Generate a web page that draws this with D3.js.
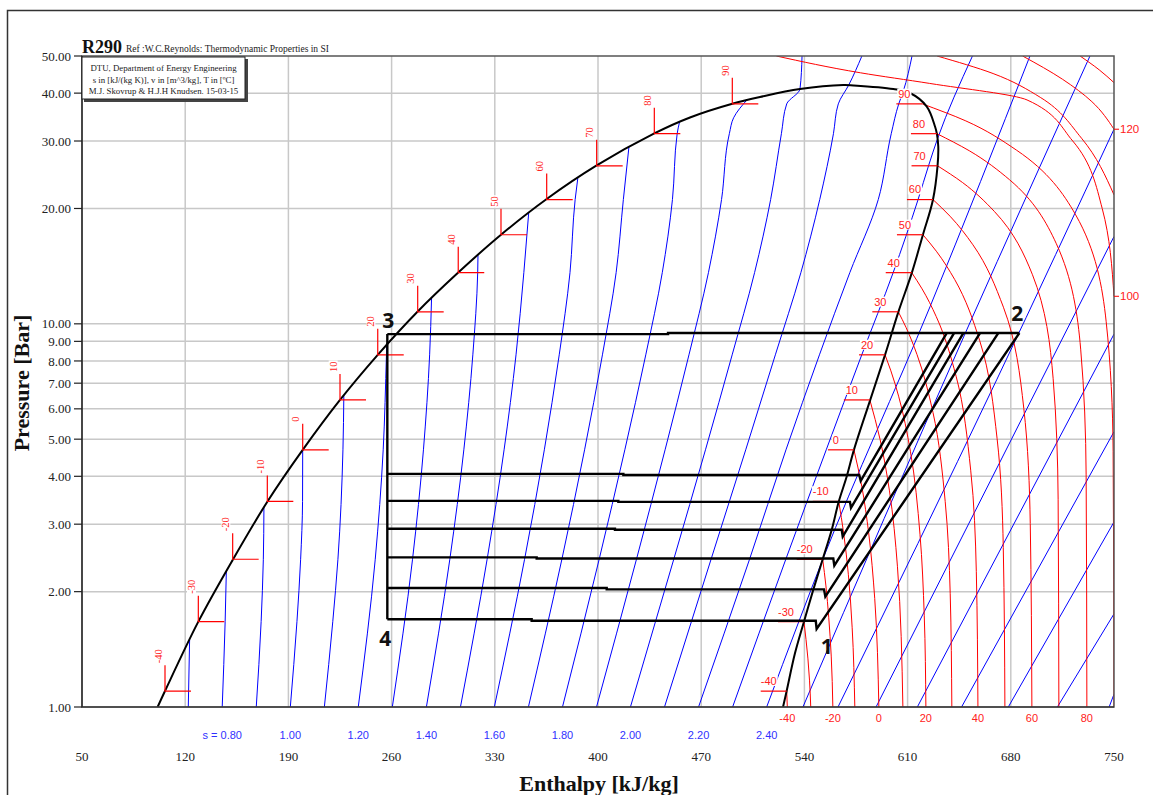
<!DOCTYPE html>
<html>
<head>
<meta charset="utf-8">
<script src="https://cdn.jsdelivr.net/npm/d3@7"></script>
<style>
  body { margin: 0; background: #fff; }
  svg { display: block; }
</style>
</head>
<body>
<svg id="chart"></svg>
<script>
const W = 1153, H = 795;
const SERIF = "'Liberation Serif', 'Times New Roman', serif";
const SANS = "'Liberation Sans', Arial, sans-serif";

// axes
const hTicks = [50, 120, 190, 260, 330, 400, 470, 540, 610, 680, 750];
const pTicks = [1, 2, 3, 4, 5, 6, 7, 8, 9, 10, 20, 30, 40, 50];

// saturation markers (T in C, p in bar, h in kJ/kg)
const satTemps = [-40, -30, -20, -10, 0, 10, 20, 30, 40, 50, 60, 70, 80, 90];
const satPress = [1.10, 1.67, 2.43, 3.44, 4.69, 6.33, 8.30, 10.75, 13.6, 17.08, 21.1, 25.85, 31.35, 37.5];
const liqMarkH = [106.3, 128.9, 152.2, 175.7, 199.7, 225.0, 250.6, 277.7, 305.2, 334.2, 365.2, 399.1, 438.2, 491.1];
const vapMarkH = [528.0, 539.7, 552.4, 563.3, 573.6, 584.4, 594.7, 603.7, 612.8, 620.4, 627.2, 630.3, 629.9, 620.0];

// saturation dome, liquid side up, over the top, vapour side down
const domeLine = [
  [101.3, 1.0], [106.3, 1.101], [128.9, 1.67], [152.2, 2.42], [175.7, 3.433], [199.7, 4.688],
  [225.0, 6.33], [250.6, 8.30], [277.7, 10.77], [305.2, 13.61], [334.2, 17.08], [365.2, 21.17],
  [399.1, 25.9], [438.2, 31.4], [462.4, 34.56], [491.1, 37.53], [509.9, 39.08], [537.0, 41.0],
  [566.4, 42.0], [573.2, 41.9], [600.3, 41.0], [611.6, 40.03], [622.9, 36.93], [628.6, 32.74],
  [629.9, 31.28], [630.8, 29.04], [630.3, 25.8], [627.2, 21.08], [620.4, 17.08], [612.8, 13.56],
  [603.7, 10.73], [594.7, 8.30], [584.5, 6.305], [573.6, 4.688], [568.7, 3.994], [563.3, 3.436],
  [558.5, 2.898], [552.4, 2.43], [546.0, 2.021], [539.7, 1.67], [533.6, 1.381], [528.0, 1.103],
  [525.5, 1.0]
];

// isentropes, s in kJ/(kg K)
const sValues = [0.7, 0.8, 0.9, 1.0, 1.1, 1.2, 1.3, 1.4, 1.5, 1.6, 1.7, 1.8, 1.9, 2.0, 2.1, 2.2, 2.3, 2.4,
                 2.5, 2.6, 2.7, 2.8, 2.9, 3.0, 3.1, 3.2];
const sLines = [
  [[122.1, 1], [123.0, 1.5]],
  [[145.1, 1], [147.1, 1.67], [147.9, 2.26]],
  [[168.2, 1], [171.5, 1.67], [173.0, 2.43], [173.4, 3.32]],
  [[191.3, 1], [195.8, 1.67], [198.3, 2.43], [199.6, 3.44], [199.7, 4.69]],
  [[214.4, 1], [220.1, 1.67], [223.6, 2.43], [227.0, 4.69], [227.6, 6.51]],
  [[237.4, 1], [248.9, 2.43], [254.3, 4.69], [256.5, 8.30], [256.7, 8.80]],
  [[260.5, 1], [274.2, 2.43], [281.6, 4.69], [285.8, 8.30], [287.1, 11.67]],
  [[283.6, 1], [299.5, 2.43], [309.0, 4.69], [315.1, 8.30], [318.4, 13.6], [318.6, 15.1]],
  [[306.7, 1], [324.8, 2.43], [336.3, 4.69], [344.4, 8.30], [349.7, 13.6], [353.0, 19.5]],
  [[329.7, 1], [350.2, 2.43], [363.6, 4.69], [373.7, 8.30], [381.0, 13.6], [384.5, 21.1], [386.3, 24.0]],
  [[352.8, 1], [375.5, 2.43], [390.9, 4.69], [403.0, 8.30], [412.3, 13.6], [417.2, 21.1], [421.0, 29.0]],
  [[375.9, 1], [400.8, 2.43], [418.2, 4.69], [432.4, 8.30], [443.6, 13.6], [450.5, 21.1], [453.7, 31.35], [455.3, 33.6]],
  [[399.0, 1], [426.1, 2.43], [445.5, 4.69], [461.7, 8.30], [474.9, 13.6], [483.8, 21.1], [489.1, 31.35], [492.0, 34.5], [501.0, 38.4]],
  [[422.0, 1], [451.4, 2.43], [472.9, 4.69], [491.0, 8.30], [506.2, 13.6], [517.1, 21.1], [524.4, 31.35], [528.0, 37.5], [537.0, 41.0], [538.4, 50]],
  [[445.1, 1], [476.7, 2.43], [500.2, 4.69], [520.3, 8.30], [537.6, 13.6], [550.4, 21.1], [559.7, 31.35], [563.0, 37.5], [570.0, 41.95], [579.0, 50]],
  [[468.2, 1], [502.8, 2.43], [527.5, 4.69], [550.2, 8.30], [570.8, 13.6], [590.1, 21.1], [598.9, 31.35], [604.0, 37.5], [607.0, 40.4], [613.0, 50]],
  [[491.3, 1], [527.4, 2.43], [554.8, 4.69], [578.9, 8.30], [600.2, 13.6], [617.1, 21.1], [624.2, 25.85], [630.4, 30.5], [654.0, 50]],
  [[514.4, 1], [536.2, 1.67], [552.5, 2.43], [625.2, 11.08], [693.0, 50]],
  [[539.0, 1], [650.1, 9.64], [733.7, 50]],
  [[562.8, 1], [670.4, 7.14], [750, 32.2]],
  [[588.6, 1], [750, 16.9]],
  [[616.6, 1], [750, 9.4]],
  [[646.6, 1], [750, 5.23]],
  [[678.3, 1], [750, 3.04]],
  [[711.6, 1], [750, 1.75]],
  [[746.7, 1], [750, 1.08]]
];

// isotherms in the vapour and supercritical region, T in C
const tempValues = [-40, -30, -20, -10, 0, 10, 20, 30, 40, 50, 60, 70, 80, 90, 100, 110, 120, 130];
const tempLines = [
  [[528.0, 1.10], [528.4, 1.0]],
  [[539.7, 1.67], [541.1, 1.50], [542.4, 1.335], [543.5, 1.17], [544.3, 1.0]],
  [[552.4, 2.43], [554.6, 2.07], [556.5, 1.715], [558.2, 1.358], [559.3, 1.0]],
  [[563.3, 3.44], [566.7, 2.83], [569.8, 2.22], [572.4, 1.61], [574.2, 1.0]],
  [[573.6, 4.69], [578.9, 3.77], [583.6, 2.845], [587.7, 1.92], [590.5, 1.0]],
  [[584.4, 6.33], [591.3, 5.0], [597.7, 3.665], [603.1, 2.33], [606.8, 1.0]],
  [[594.7, 8.30], [598.5, 7.57], [603.9, 6.475], [611.9, 4.65], [618.4, 2.825], [621.3, 1.73], [622.4, 1.0]],
  [[603.7, 10.75], [609.0, 9.775], [616.4, 8.31], [627.2, 5.875], [635.5, 3.44], [638.9, 1.975], [640.0, 1.0]],
  [[612.8, 13.6], [619.8, 12.34], [629.4, 10.45], [642.9, 7.3], [652.8, 4.15], [656.6, 2.26], [657.7, 1.0]],
  [[620.4, 17.08], [629.5, 15.47], [641.9, 13.06], [658.9, 9.04], [670.7, 5.02], [674.9, 2.61], [676.0, 1.0]],
  [[627.2, 21.1], [638.8, 19.09], [654.3, 16.08], [675.0, 11.05], [688.8, 6.025], [693.2, 3.01], [694.3, 1.0]],
  [[630.3, 25.85], [647.3, 23.37], [668.9, 19.64], [694.7, 13.43], [708.7, 7.21], [712.1, 3.485], [712.6, 1.0]],
  [[629.9, 31.35], [651.8, 28.3], [679.2, 23.76], [710.9, 16.18], [727.4, 8.59], [731.1, 4.035], [731.6, 1.0]],
  [[620.0, 37.5], [649.5, 33.85], [684.0, 28.375], [724.0, 19.25], [744.7, 10.125], [749.4, 4.65], [750, 1.0]],
  [[521.0, 50], [578.0, 45.2], [625.0, 42.4], [691.0, 38.4], [722.0, 30], [742.0, 20], [750, 11.8]],
  [[630.0, 50], [668.0, 45], [700.0, 39], [728.0, 30.5], [750, 21.7]],
  [[688.0, 50], [715.0, 43.5], [735.0, 38], [750, 32.2]],
  [[727.0, 50], [740.0, 46], [750, 42.6]]
];

// refrigeration cycles
const condenser = [[685.8, 9.46], [447.5, 9.46], [447.5, 9.40], [257.1, 9.40]];
const throttle = [[257.1, 9.40], [257.1, 1.694]];
const evapPress = [[4.06, 4.03], [3.45, 3.43], [2.92, 2.90], [2.458, 2.44], [2.045, 2.028], [1.694, 1.679]];
const evapStepH = [417.2, 413.8, 411.5, 358.4, 405.9, 355.0];
const evapEndH = [577.2, 570.9, 565.3, 559.6, 553.3, 547.7];
const suction = [[578.2, 3.89], [571.6, 3.31], [566.0, 2.785], [560.3, 2.338], [554.2, 1.941], [548.3, 1.598]];
const dischargeH = [636.5, 641.5, 647.8, 659.1, 671.5, 685.8];
const condP = 9.46;

const x = d3.scaleLinear().domain([50, 750]).range([82, 1114]);
const y = d3.scaleLog().domain([1, 50]).range([707, 56]);

const line = d3.line().x(d => x(d[0])).y(d => y(d[1]));
const smoothY = d3.line().x(d => x(d[0])).y(d => y(d[1])).curve(d3.curveMonotoneY);
const smooth = d3.line().x(d => x(d[0])).y(d => y(d[1])).curve(d3.curveCatmullRom.alpha(0.5));
const byY = pts => pts.slice().sort((a, b) => b[1] - a[1]);

const svg = d3.select("#chart").attr("width", W).attr("height", H);
svg.append("rect").attr("width", W).attr("height", H).attr("fill", "#fff");

// page frame
svg.append("path").attr("d", "M7.5,795V10.5H1153")
  .attr("fill", "none").attr("stroke", "#333").attr("stroke-width", 1.5);

svg.append("defs").append("clipPath").attr("id", "plot")
  .append("rect").attr("x", x(50)).attr("y", y(50)).attr("width", x(750) - x(50)).attr("height", y(1) - y(50));

// grid
const grid = svg.append("g").attr("stroke", "#c8c8c8").attr("stroke-width", 1.5);
grid.selectAll(".gv").data(hTicks.slice(1, -1)).join("line").attr("class", "gv")
  .attr("x1", d => x(d)).attr("x2", d => x(d)).attr("y1", y(50)).attr("y2", y(1));
grid.selectAll(".gh").data(pTicks.slice(1, -1)).join("line").attr("class", "gh")
  .attr("x1", x(50)).attr("x2", x(750)).attr("y1", d => y(d)).attr("y2", d => y(d));

const plot = svg.append("g").attr("clip-path", "url(#plot)");

// isentropes
plot.append("g").selectAll("path").data(sLines).join("path")
  .attr("d", d => smoothY(byY(d)))
  .attr("fill", "none").attr("stroke", "#0000ff").attr("stroke-width", 1);

// isotherms
plot.append("g").selectAll("path").data(tempLines).join("path")
  .attr("d", d => smoothY(byY(d)))
  .attr("fill", "none").attr("stroke", "#ff0000").attr("stroke-width", 1);

// dome
plot.append("path").attr("d", smooth(domeLine))
  .attr("fill", "none").attr("stroke", "#000").attr("stroke-width", 2);

// saturation markers
const marks = svg.append("g").attr("stroke", "#ff0000").attr("stroke-width", 1.2);
satTemps.forEach((t, i) => {
  const cx = x(liqMarkH[i]), cy = y(satPress[i]);
  marks.append("path").attr("d", `M${cx},${cy - 26}V${cy}H${cx + 26}`).attr("fill", "none");
  const vx = x(vapMarkH[i]);
  marks.append("path").attr("d", `M${vx - 26},${cy}H${vx}`);
});

function label(g, txt, px, py, opts) {
  const o = Object.assign({ rot: false, anchor: "middle", color: "#ff2020", size: 11, bg: true, font: SANS }, opts);
  const t = g.append("g").attr("transform", `translate(${px},${py})` + (o.rot ? " rotate(-90)" : ""));
  const text = t.append("text").text(txt)
    .attr("text-anchor", o.anchor).attr("dy", "0.35em")
    .attr("font-family", o.font).attr("font-size", o.size).attr("fill", o.color);
  if (o.bg) {
    const bb = text.node().getBBox();
    t.insert("rect", "text").attr("x", bb.x - 1).attr("y", bb.y + 1)
      .attr("width", bb.width + 2).attr("height", bb.height - 2).attr("fill", "#fff");
  }
}

const labels = svg.append("g");
satTemps.forEach((t, i) => {
  const cx = x(liqMarkH[i]), cy = y(satPress[i]);
  label(labels, String(t), cx - 7, cy - 28, { rot: true, anchor: "start", size: 10.5, font: SERIF });
  label(labels, String(t), x(vapMarkH[i]) - 18, cy - 10, {});
});

// cycle
const cyc = svg.append("g").attr("fill", "none").attr("stroke", "#000").attr("stroke-width", 2.4)
  .attr("stroke-linejoin", "miter");
cyc.append("path").attr("d", line(condenser));
cyc.append("path").attr("d", line(throttle));
evapPress.forEach((pp, i) => {
  const pts = [[257.1, pp[0]], [evapStepH[i], pp[0]], [evapStepH[i], pp[1]], [evapEndH[i], pp[1]],
               suction[i], [dischargeH[i], condP]];
  cyc.append("path").attr("d", line(pts));
});

// state point numbers
function pointLabel(txt, pt, dx, dy) {
  svg.append("text").text(txt).attr("x", x(pt[0]) + dx).attr("y", y(pt[1]) + dy)
    .attr("text-anchor", "middle").attr("dy", "0.35em")
    .attr("font-family", "'Open Sans', 'Liberation Sans', sans-serif")
    .attr("font-weight", "bold").attr("font-size", 21).attr("fill", "#111");
}
pointLabel("1", suction[5], 10, 18);
pointLabel("2", [dischargeH[5], condP], -2, -19);
pointLabel("3", condenser[3], 1, -13);
pointLabel("4", throttle[1], -2, 19);

// plot frame and axes
svg.append("rect").attr("x", x(50)).attr("y", y(50)).attr("width", x(750) - x(50)).attr("height", y(1) - y(50))
  .attr("fill", "none").attr("stroke", "#555").attr("stroke-width", 1.5);
svg.append("path").attr("d", `M${x(50)},${y(50)}V${y(1)}H${x(750)}`)
  .attr("fill", "none").attr("stroke", "#222").attr("stroke-width", 1.2);

const yAxis = svg.append("g").attr("font-family", SERIF).attr("font-size", 13);
pTicks.forEach(p => {
  yAxis.append("line").attr("x1", 74).attr("x2", x(50)).attr("y1", y(p)).attr("y2", y(p))
    .attr("stroke", "#222").attr("stroke-width", 1.2);
  yAxis.append("text").attr("x", 71).attr("y", y(p)).attr("dy", "0.35em")
    .attr("text-anchor", "end").attr("fill", "#222").text(d3.format(".2f")(p));
});

const xAxis = svg.append("g").attr("font-family", SERIF).attr("font-size", 13);
hTicks.forEach(h => {
  xAxis.append("text").attr("x", x(h)).attr("y", 761).attr("text-anchor", "middle")
    .attr("fill", "#222").text(h);
});

// entropy labels under the axis
sValues.forEach((s, i) => {
  const k = Math.round(s * 10);
  if (k % 2 !== 0 || k > 24) return;
  const bottom = sLines[i].find(d => d[1] === 1);
  const txt = (k === 8 ? "s = " : "") + d3.format(".2f")(s);
  label(svg, txt, x(bottom[0]), 735, { color: "#3030ff", bg: false });
});

// temperature labels under the axis and on the right edge
tempValues.forEach((t, i) => {
  const pts = tempLines[i];
  if (t % 20 !== 0) return;
  if (t <= 80) {
    const bottom = pts.find(d => d[1] === 1);
    label(svg, String(t), x(bottom[0]), 718, { bg: false });
  } else {
    const edge = pts.find(d => d[0] === 750);
    svg.append("line").attr("x1", x(750)).attr("x2", x(750) + 5).attr("y1", y(edge[1])).attr("y2", y(edge[1]))
      .attr("stroke", "#ff0000");
    label(svg, String(t), x(750) + 6, y(edge[1]), { anchor: "start", bg: false, size: 11.5 });
  }
});

// titles
svg.append("text").attr("x", 82).attr("y", 53).attr("font-family", SERIF).attr("font-weight", "bold")
  .attr("font-size", 18).attr("fill", "#111").text("R290");
svg.append("text").attr("x", 126).attr("y", 52).attr("font-family", SERIF)
  .attr("font-size", 9.5).attr("fill", "#222").text("Ref :W.C.Reynolds: Thermodynamic Properties in SI");

// info box
const box = svg.append("g");
box.append("rect").attr("x", 84).attr("y", 59).attr("width", 164).attr("height", 43).attr("fill", "#444");
box.append("rect").attr("x", 82).attr("y", 57).attr("width", 163).attr("height", 42)
  .attr("fill", "#fff").attr("stroke", "#222").attr("stroke-width", 1);
const infoLines = ["DTU, Department of Energy Engineering",
                   "s in [kJ/(kg K)], v in [m^3/kg], T in [\u00baC]",
                   "M.J. Skovrup & H.J.H Knudsen. 15-03-15"];
infoLines.forEach((t, i) => {
  box.append("text").attr("x", 163.5).attr("y", 71 + i * 11.7).attr("text-anchor", "middle")
    .attr("font-family", SERIF).attr("font-size", 8.8).attr("fill", "#222").text(t);
});

svg.append("text").attr("transform", "translate(29,383) rotate(-90)").attr("text-anchor", "middle")
  .attr("font-family", SERIF).attr("font-weight", "bold").attr("font-size", 22).attr("fill", "#111")
  .text("Pressure [Bar]");
svg.append("text").attr("x", 599).attr("y", 791).attr("text-anchor", "middle")
  .attr("font-family", SERIF).attr("font-weight", "bold").attr("font-size", 22).attr("fill", "#111")
  .text("Enthalpy [kJ/kg]");
</script>
</body>
</html>
